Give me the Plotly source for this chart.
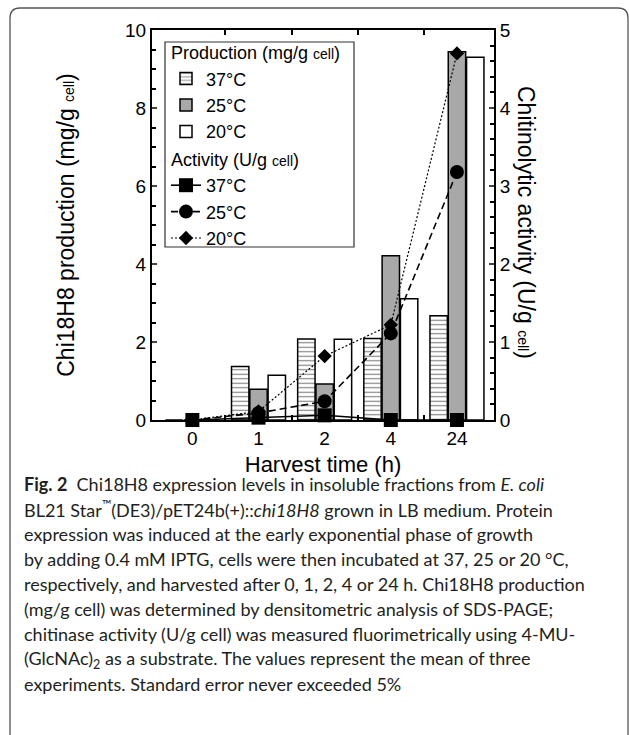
import plotly.graph_objects as go

# ---------------- data ----------------
categories = ["0", "1", "2", "4", "24"]
prod_37 = [0.0, 1.37, 2.08, 2.09, 2.67]
prod_25 = [0.0, 0.79, 0.92, 4.21, 9.44]
prod_20 = [0.0, 1.15, 2.07, 3.11, 9.30]
act_37 = [0.0, 0.03, 0.06, 0.0, 0.0]
act_25 = [0.0, 0.09, 0.24, 1.11, 3.18]
act_20 = [0.0, 0.11, 0.82, 1.22, 4.70]
left_ticks = [0, 2, 4, 6, 8, 10]
right_ticks = [0, 1, 2, 3, 4, 5]

caption_lines = [
    "<b>Fig. 2</b>  Chi18H8 expression levels in insoluble fractions from <i>E. coli</i>",
    "BL21 Star<sup>™</sup>(DE3)/pET24b(+)::<i>chi18H8</i> grown in LB medium. Protein",
    "expression was induced at the early exponential phase of growth",
    "by adding 0.4 mM IPTG, cells were then incubated at 37, 25 or 20 °C,",
    "respectively, and harvested after 0, 1, 2, 4 or 24 h. Chi18H8 production",
    "(mg/g cell) was determined by densitometric analysis of SDS-PAGE;",
    "chitinase activity (U/g cell) was measured fluorimetrically using 4-MU-",
    "(GlcNAc)<sub>2</sub> as a substrate. The values represent the mean of three",
    "experiments. Standard error never exceeded 5%",
]

# ---------------- layout geometry (pixels) ----------------
W, H = 629, 735
PL, PR, PT, PB = 152, 494, 30, 420


def px(x):
    return (x - PL) / (PR - PL)


def py(y):
    return (PB - y) / (PB - PT)


xpos = list(range(len(categories)))
FONT = "Liberation Sans, Arial, sans-serif"
small = "<span style='font-size:14px'>cell</span>"

fig = go.Figure()

bar_line = dict(color="black", width=1.5)
prod_title = "Production (mg/g " + small + ")"
fig.add_trace(go.Bar(
    x=xpos, y=prod_37, name="37°C", legendgroup="prod", legendrank=1,
    legendgrouptitle=dict(text=prod_title),
    marker=dict(color="white", line=bar_line,
                pattern=dict(shape="-", fgcolor="black", bgcolor="white",
                             size=4.5, solidity=0.25)),
))
fig.add_trace(go.Bar(
    x=xpos, y=prod_25, name="25°C", legendgroup="prod", legendrank=2,
    legendgrouptitle=dict(text=prod_title),
    marker=dict(color="#a8a8a8", line=bar_line),
))
fig.add_trace(go.Bar(
    x=xpos, y=prod_20, name="20°C", legendgroup="prod", legendrank=3,
    legendgrouptitle=dict(text=prod_title),
    marker=dict(color="white", line=bar_line),
))

act_title = "Activity (U/g " + small + ")"
fig.add_trace(go.Scatter(
    x=xpos, y=act_20, name="20°C", yaxis="y2", legendgroup="act", legendrank=6,
    legendgrouptitle=dict(text=act_title), mode="lines+markers", cliponaxis=False,
    line=dict(color="black", width=1.2, dash="2px,2px"),
    marker=dict(symbol="diamond", size=11, color="black"),
))
fig.add_trace(go.Scatter(
    x=xpos, y=act_25, name="25°C", yaxis="y2", legendgroup="act", legendrank=5,
    legendgrouptitle=dict(text=act_title), mode="lines+markers", cliponaxis=False,
    line=dict(color="black", width=1.6, dash="7px,4px"),
    marker=dict(symbol="circle", size=14, color="black"),
))
fig.add_trace(go.Scatter(
    x=xpos, y=act_37, name="37°C", yaxis="y2", legendgroup="act", legendrank=4,
    legendgrouptitle=dict(text=act_title), mode="lines+markers", cliponaxis=False,
    line=dict(color="black", width=1.6),
    marker=dict(symbol="square", size=14, color="black"),
))

# frame (rounded rectangle, open at the bottom)
fx0, fx1, fy0, fy1, r = 10, 628, 8, 740, 10
path = (f"M {px(fx0)},{py(fy1)} L {px(fx0)},{py(fy0 + r)} "
        f"Q {px(fx0)},{py(fy0)} {px(fx0 + r)},{py(fy0)} "
        f"L {px(fx1 - r)},{py(fy0)} Q {px(fx1)},{py(fy0)} {px(fx1)},{py(fy0 + r)} "
        f"L {px(fx1)},{py(fy1)}")
shapes = [
    dict(type="path", xref="paper", yref="paper", path=path,
         line=dict(color="#555555", width=1.3)),
    # legend box
    dict(type="rect", xref="paper", yref="paper", x0=px(165), x1=px(354),
         y0=py(247), y1=py(42), line=dict(color="#333333", width=1.2),
         fillcolor="rgba(0,0,0,0)"),
]

annotations = [dict(
    text="Chitinolytic activity (U/g " + small + ")", textangle=90,
    xref="paper", yref="paper", x=px(541), y=py(222),
    showarrow=False, font=dict(size=23, family=FONT, color="black"),
)]
for i, line in enumerate(caption_lines):
    annotations.append(dict(
        text=line, xref="paper", yref="paper", x=px(22), y=py(484 + 25 * i),
        xanchor="left", yanchor="middle", showarrow=False,
        font=dict(size=18, family="Lato, sans-serif", color="#231f20"),
    ))

fig.update_layout(
    width=W, height=H,
    margin=dict(l=PL, r=W - PR, t=PT, b=H - PB),
    paper_bgcolor="white", plot_bgcolor="white",
    barmode="group", bargap=0.17, bargroupgap=0.05,
    font=dict(family=FONT, color="black", size=19),
    showlegend=True,
    legend=dict(x=px(166), y=py(34), xanchor="left", yanchor="top",
                borderwidth=0, bgcolor="rgba(0,0,0,0)",
                font=dict(size=18, family=FONT, color="black"),
                grouptitlefont=dict(size=18, family=FONT, color="black"),
                tracegroupgap=1, traceorder="grouped", itemwidth=30),
    xaxis=dict(
        range=[-0.61, 4.56], tickmode="array", tickvals=xpos, ticktext=categories,
        ticks="", showline=True, linecolor="black", linewidth=2, mirror="allticks",
        showgrid=False, zeroline=False, tickfont=dict(size=19),
        minor=dict(tickmode="array", tickvals=[0.5, 1.5, 2.5, 3.5], ticks="inside",
                   ticklen=5, tickwidth=1.5, tickcolor="black"),
        title=dict(text="Harvest time (h)", font=dict(size=22), standoff=9),
    ),
    yaxis=dict(
        range=[0, 10], tickmode="array", tickvals=left_ticks, ticks="inside",
        ticklen=5, tickwidth=1.5, showline=True, linecolor="black", linewidth=2,
        showgrid=False, zeroline=False, tickfont=dict(size=19),
        minor=dict(dtick=0.5, ticks="inside", ticklen=4, tickwidth=1.5, tickcolor="black"),
        title=dict(text="Chi18H8 production (mg/g " + small + ")", font=dict(size=23), standoff=44),
    ),
    yaxis2=dict(
        range=[0, 5], tickmode="array", tickvals=right_ticks, ticks="inside",
        ticklen=5, tickwidth=1.5, overlaying="y", side="right", showline=True,
        linecolor="black", linewidth=2, showgrid=False, zeroline=False,
        tickfont=dict(size=19),
        minor=dict(dtick=0.2, ticks="inside", ticklen=4, tickwidth=1.5, tickcolor="black"),
    ),
    shapes=shapes,
    annotations=annotations,
)

fig.write_html("out.html")
